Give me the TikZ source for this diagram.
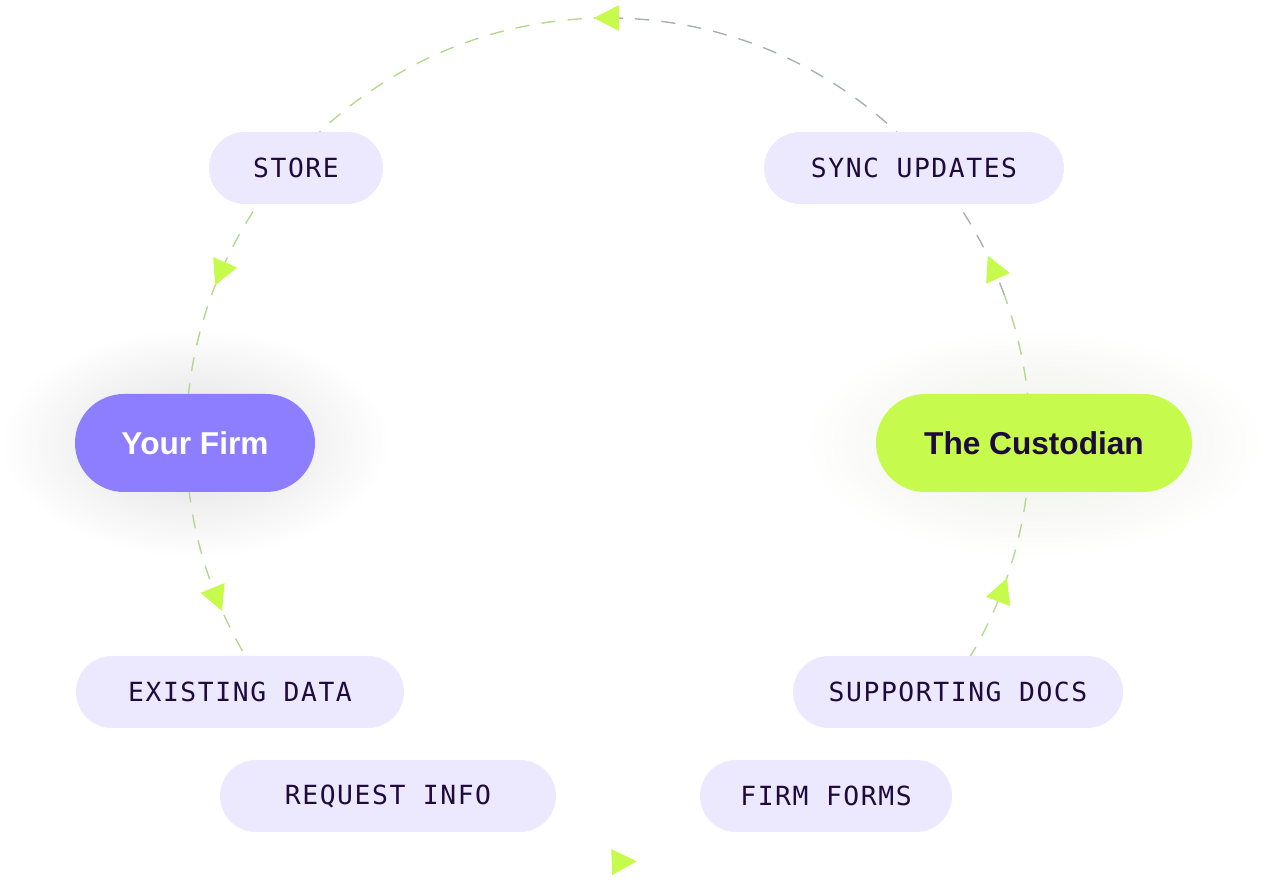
\documentclass[tikz,border=0pt]{standalone}
\usepackage{fontspec}
\setmainfont{Liberation Sans}
\newfontfamily\stepfont{DejaVu Sans Mono}[LetterSpace=6]
\usetikzlibrary{calc}
\definecolor{pill}{HTML}{ECE8FD}
\definecolor{ink}{HTML}{1E0A3C}
\definecolor{firm}{HTML}{8D7EFF}
\definecolor{lime}{HTML}{C6FB4E}
\definecolor{dashgreen}{HTML}{B4D98E}
\definecolor{dashgray}{HTML}{A9AFB5}
\newcommand{\flowtip}[1]{\fill[lime, shift={(c)}, rotate=#1] (422,14) -- (409,-11) -- (435,-11) -- cycle;}
\begin{document}
\begin{tikzpicture}[x=0.02cm, y=0.02cm,
        stage/.style={rectangle, rounded corners=36*0.02cm, fill=pill, text=ink, minimum height=72*0.02cm, font=\stepfont\fontsize{15}{15}\selectfont},
        party/.style={rectangle, rounded corners=49*0.02cm, minimum height=98*0.02cm, font=\bfseries\fontsize{18}{18}\selectfont},
        ]
        \useasboundingbox (0,0) rectangle (1268,882);
        \coordinate (c) at (608,442);

        % glows
        \shade[inner color=firm!12!black!14, outer color=white] (195,439) ellipse [x radius=195, y radius=115];
        \shade[inner color=lime!45!black!12, outer color=white] (1034,439) ellipse [x radius=232, y radius=115];

        % dashed ring
        \draw[dashgreen, thick, dash pattern=on 8pt off 7pt] ($(c)+(90:422)$) arc (90:214:422);
        \draw[dashgray, thick, dash pattern=on 8pt off 7pt] ($(c)+(20:422)$) arc (20:90:422);
        \draw[dashgreen, thick, dash pattern=on 8pt off 7pt] ($(c)+(-42:422)$) arc (-42:20:422);
        \foreach \a in {90,156.6,202,272,339,24} {\flowtip{\a}}

        \node (store) at (296,714) [stage, minimum width=174*0.02cm] {STORE};
        \node (sync) at (914,714) [stage, minimum width=300*0.02cm] {SYNC UPDATES};
        \node (existing) at (240,190) [stage, minimum width=328*0.02cm] {EXISTING DATA};
        \node (request) at (388,86) [stage, minimum width=336*0.02cm] {REQUEST INFO};
        \node (forms) at (826,86) [stage, minimum width=252*0.02cm] {FIRM FORMS};
        \node (docs) at (958,190) [stage, minimum width=330*0.02cm] {SUPPORTING DOCS};

        \node (yourfirm) at (195,439) [party, fill=firm, text=white, minimum width=240*0.02cm] {Your Firm};
        \node (custodian) at (1034,439) [party, fill=lime, text=ink, minimum width=316*0.02cm] {The Custodian};
    \end{tikzpicture}
\end{document}
